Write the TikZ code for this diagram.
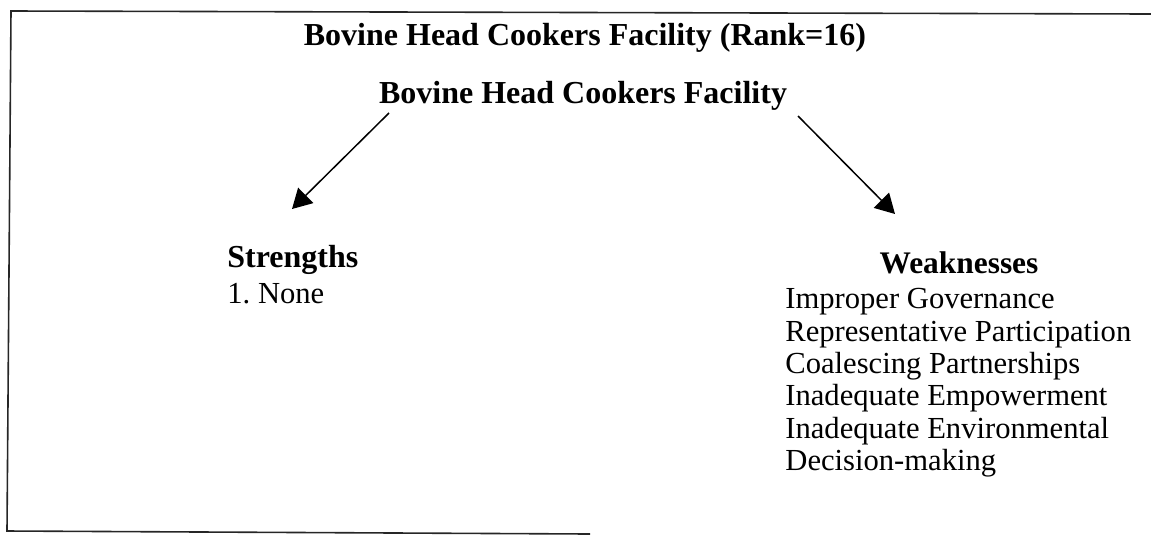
\documentclass[tikz,border=0pt]{standalone}
\usepackage{fontspec}
\setmainfont{Liberation Serif}
\usetikzlibrary{arrows.meta}
\begin{document}
\begin{tikzpicture}[x=0.5pt,y=-0.5pt,
  heading/.style={font=\bfseries\fontsize{16}{18}\selectfont, inner sep=0pt},
  subheading/.style={font=\bfseries\fontsize{15.7}{18}\selectfont, inner sep=0pt},
  body/.style={font=\fontsize{15.3}{16.2}\selectfont, inner sep=0pt},
  frame/.style={line width=0.8pt, black!85},
  link/.style={line width=0.75pt, -{Triangle[length=9.7pt,width=10.7pt]}}]
  \useasboundingbox (0,0) rectangle (1151,537);

  % open frame around the chart
  \draw[frame] (1151,14) -- (11,11) -- (7,531) -- (590,534);

  % titles
  \node[heading, anchor=base] (title) at (585,45) {Bovine Head Cookers Facility (Rank=16)};
  \node[heading, anchor=base] (head) at (583,103) {Bovine Head Cookers Facility};

  % strengths column
  \node[heading, anchor=base west] (strong) at (227,267) {Strengths};
  \node[body, anchor=base west] (none) at (227,303) {1.\ None};

  % weaknesses column
  \node[subheading, anchor=base] (weak) at (959,273) {Weaknesses};
  \node[body, anchor=north west, align=left] (list) at (785,288)
    {Improper Governance\\
     Representative Participation\\
     Coalescing Partnerships\\
     Inadequate Empowerment\\
     Inadequate Environmental\\
     Decision-making};

  % connectors from the facility to both columns
  \coordinate (fromL) at (389,113);
  \coordinate (toL) at (292,209);
  \coordinate (fromR) at (798,116);
  \coordinate (toR) at (895,214);
  \draw[link] (fromL) -- (toL);
  \draw[link] (fromR) -- (toR);
\end{tikzpicture}
\end{document}
